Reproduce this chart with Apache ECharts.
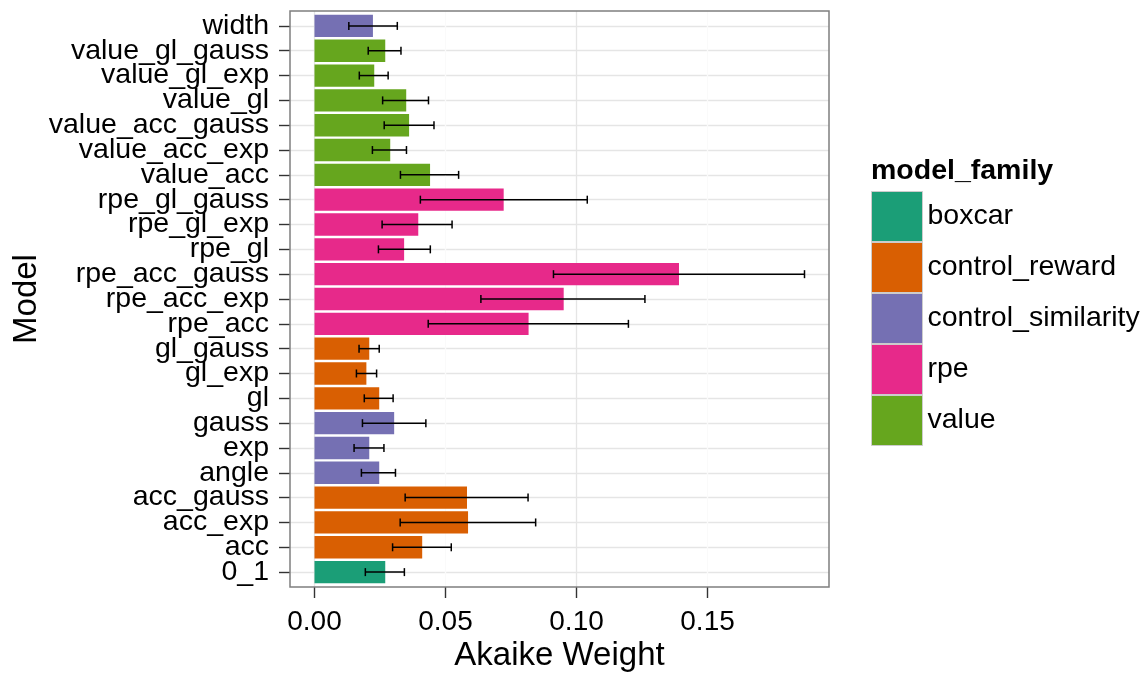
<!DOCTYPE html>
<html>
<head>
<meta charset="utf-8">
<script src="https://cdn.jsdelivr.net/npm/echarts@6/dist/echarts.min.js"></script>
<style>
  html, body { margin: 0; padding: 0; background: #ffffff; }
  #chart { width: 1148px; height: 673px; }
</style>
</head>
<body>
<div id="chart"></div>
<script>
// Models, listed from the bottom of the axis to the top
const models = ['0_1', 'acc', 'acc_exp', 'acc_gauss', 'angle', 'exp', 'gauss', 'gl', 'gl_exp', 'gl_gauss',
  'rpe_acc', 'rpe_acc_exp', 'rpe_acc_gauss', 'rpe_gl', 'rpe_gl_exp', 'rpe_gl_gauss',
  'value_acc', 'value_acc_exp', 'value_acc_gauss', 'value_gl', 'value_gl_exp', 'value_gl_gauss', 'width'];

const modelFamily = ['boxcar', 'control_reward', 'control_reward', 'control_reward',
  'control_similarity', 'control_similarity', 'control_similarity',
  'control_reward', 'control_reward', 'control_reward',
  'rpe', 'rpe', 'rpe', 'rpe', 'rpe', 'rpe',
  'value', 'value', 'value', 'value', 'value', 'value', 'control_similarity'];

// Mean Akaike weight per model and the error bar limits
const akaikeWeight = [0.0270, 0.0411, 0.0586, 0.0582, 0.0247, 0.0209, 0.0304, 0.0247, 0.0198, 0.0209,
  0.0817, 0.0951, 0.1391, 0.0342, 0.0396, 0.0722,
  0.0441, 0.0289, 0.0361, 0.0350, 0.0228, 0.0270, 0.0223];
const errLow = [0.0194, 0.0298, 0.0327, 0.0346, 0.0179, 0.0151, 0.0183, 0.0190, 0.0160, 0.0170,
  0.0434, 0.0635, 0.0912, 0.0244, 0.0258, 0.0404,
  0.0328, 0.0221, 0.0266, 0.0260, 0.0171, 0.0205, 0.0131];
const errHigh = [0.0343, 0.0522, 0.0844, 0.0815, 0.0309, 0.0265, 0.0425, 0.0300, 0.0237, 0.0247,
  0.1198, 0.1261, 0.1870, 0.0442, 0.0525, 0.1041,
  0.0550, 0.0351, 0.0456, 0.0435, 0.0281, 0.0330, 0.0316];

const familyNames = ['boxcar', 'control_reward', 'control_similarity', 'rpe', 'value'];
const familyColors = ['#1B9E77', '#D95F02', '#7570B3', '#E7298A', '#66A61E'];
const xTicks = [0, 0.05, 0.10, 0.15];

// Layout of the plotting panel
const FONT = '"Liberation Sans", Arial, Helvetica, sans-serif';
const panel = { left: 290, right: 829, top: 11, bottom: 587 };
const panelW = panel.right - panel.left;
const panelH = panel.bottom - panel.top;

// Continuous scale padded by 5% on both sides, discrete scale by 0.6 of a band
const dataMax = Math.max(...errHigh);
const xMin = -0.05 * dataMax;
const xMax = 1.05 * dataMax;
const band = panelH / (models.length - 1 + 1.2);
const inset = 0.1 * band;
const zeroX = panel.left + panelW * (-xMin) / (xMax - xMin);

const chart = echarts.init(document.getElementById('chart'), null, { renderer: 'canvas' });

const barSeries = familyNames.map((fam, i) => ({
  type: 'bar',
  name: fam,
  xAxisIndex: 0,
  yAxisIndex: 0,
  barWidth: '90%',
  barGap: '-100%',
  silent: true,
  z: 3,
  itemStyle: { color: familyColors[i] },
  data: models.map((m, j) => (modelFamily[j] === fam ? akaikeWeight[j] : '-'))
}));

const errorSeries = {
  type: 'custom',
  xAxisIndex: 0,
  yAxisIndex: 0,
  silent: true,
  z: 4,
  encode: { x: [0, 1], y: 2 },
  data: models.map((m, j) => [errLow[j], errHigh[j], j]),
  renderItem: function (params, api) {
    const lo = api.coord([api.value(0), api.value(2)]);
    const hi = api.coord([api.value(1), api.value(2)]);
    const y = lo[1];
    const cap = 4;
    const style = { stroke: '#000000', lineWidth: 1.5 };
    return {
      type: 'group',
      children: [
        { type: 'line', shape: { x1: lo[0], y1: y, x2: hi[0], y2: y }, style: style },
        { type: 'line', shape: { x1: lo[0], y1: y - cap, x2: lo[0], y2: y + cap }, style: style },
        { type: 'line', shape: { x1: hi[0], y1: y - cap, x2: hi[0], y2: y + cap }, style: style }
      ]
    };
  }
};

const option = {
  animation: false,
  backgroundColor: '#ffffff',
  textStyle: { fontFamily: FONT },
  title: {
    text: 'model_family',
    left: 871,
    top: 157,
    padding: 0,
    textStyle: { fontFamily: FONT, fontSize: 28.5, fontWeight: 'bold', color: '#000000' }
  },
  legend: {
    data: familyNames,
    orient: 'vertical',
    left: 871,
    top: 191,
    padding: 0,
    itemWidth: 51,
    itemHeight: 50,
    itemGap: 0,
    icon: 'rect',
    selectedMode: false,
    itemStyle: { borderColor: '#CCCCCC', borderWidth: 1 },
    textStyle: { fontFamily: FONT, fontSize: 28.5, color: '#000000' }
  },
  grid: [
    { // bars, error bars and the model axis
      left: panel.left, top: panel.top + inset, width: panelW, height: panelH - 2 * inset,
      containLabel: false, outerBoundsMode: 'none'
    },
    { // Akaike weight ticks and vertical grid lines
      left: zeroX, top: panel.top, width: panel.right - zeroX, height: panelH,
      containLabel: false, outerBoundsMode: 'none'
    },
    { // panel frame
      left: panel.left, top: panel.top, width: panelW, height: panelH,
      show: true, borderColor: '#7F7F7F', borderWidth: 1.5, backgroundColor: 'transparent', z: 10,
      containLabel: false, outerBoundsMode: 'none'
    }
  ],
  xAxis: [
    {
      gridIndex: 0,
      type: 'value',
      min: xMin,
      max: xMax,
      axisLine: { show: false, onZero: false },
      axisTick: { show: false },
      axisLabel: { show: false },
      splitLine: { show: false },
      name: 'Akaike Weight',
      nameLocation: 'middle',
      nameGap: 55,
      nameTextStyle: { fontFamily: FONT, fontSize: 33, color: '#000000' }
    },
    {
      gridIndex: 1,
      type: 'value',
      min: 0,
      max: xMax,
      interval: 0.025,
      axisLine: { show: false, onZero: false },
      axisTick: { show: true, customValues: xTicks, length: 11, lineStyle: { color: '#333333', width: 1.4 } },
      axisLabel: {
        show: true, customValues: xTicks, margin: 21, fontFamily: FONT, fontSize: 28, color: '#000000',
        formatter: v => v.toFixed(2)
      },
      splitLine: { show: true, lineStyle: { color: ['#E5E5E5', '#FAFAFA'], width: 1.3 } }
    },
    { gridIndex: 2, type: 'value', show: false, min: 0, max: 1 }
  ],
  yAxis: [
    {
      gridIndex: 0,
      type: 'category',
      data: models,
      axisLine: { show: false, onZero: false },
      axisTick: { show: true, interval: 0, alignWithLabel: true, length: 11, lineStyle: { color: '#333333', width: 1.4 } },
      axisLabel: { interval: 0, margin: 21, fontFamily: FONT, fontSize: 28.5, color: '#000000' },
      splitLine: { show: true, interval: 0, alignWithLabel: true, lineStyle: { color: '#E5E5E5', width: 1.3 } },
      name: 'Model',
      nameLocation: 'middle',
      nameRotate: 90,
      nameGap: 247,
      nameTextStyle: { fontFamily: FONT, fontSize: 33, color: '#000000' }
    },
    { gridIndex: 1, type: 'value', show: false, min: 0, max: 1 },
    { gridIndex: 2, type: 'value', show: false, min: 0, max: 1 }
  ],
  series: barSeries.concat([errorSeries])
};

chart.setOption(option);
</script>
</body>
</html>
